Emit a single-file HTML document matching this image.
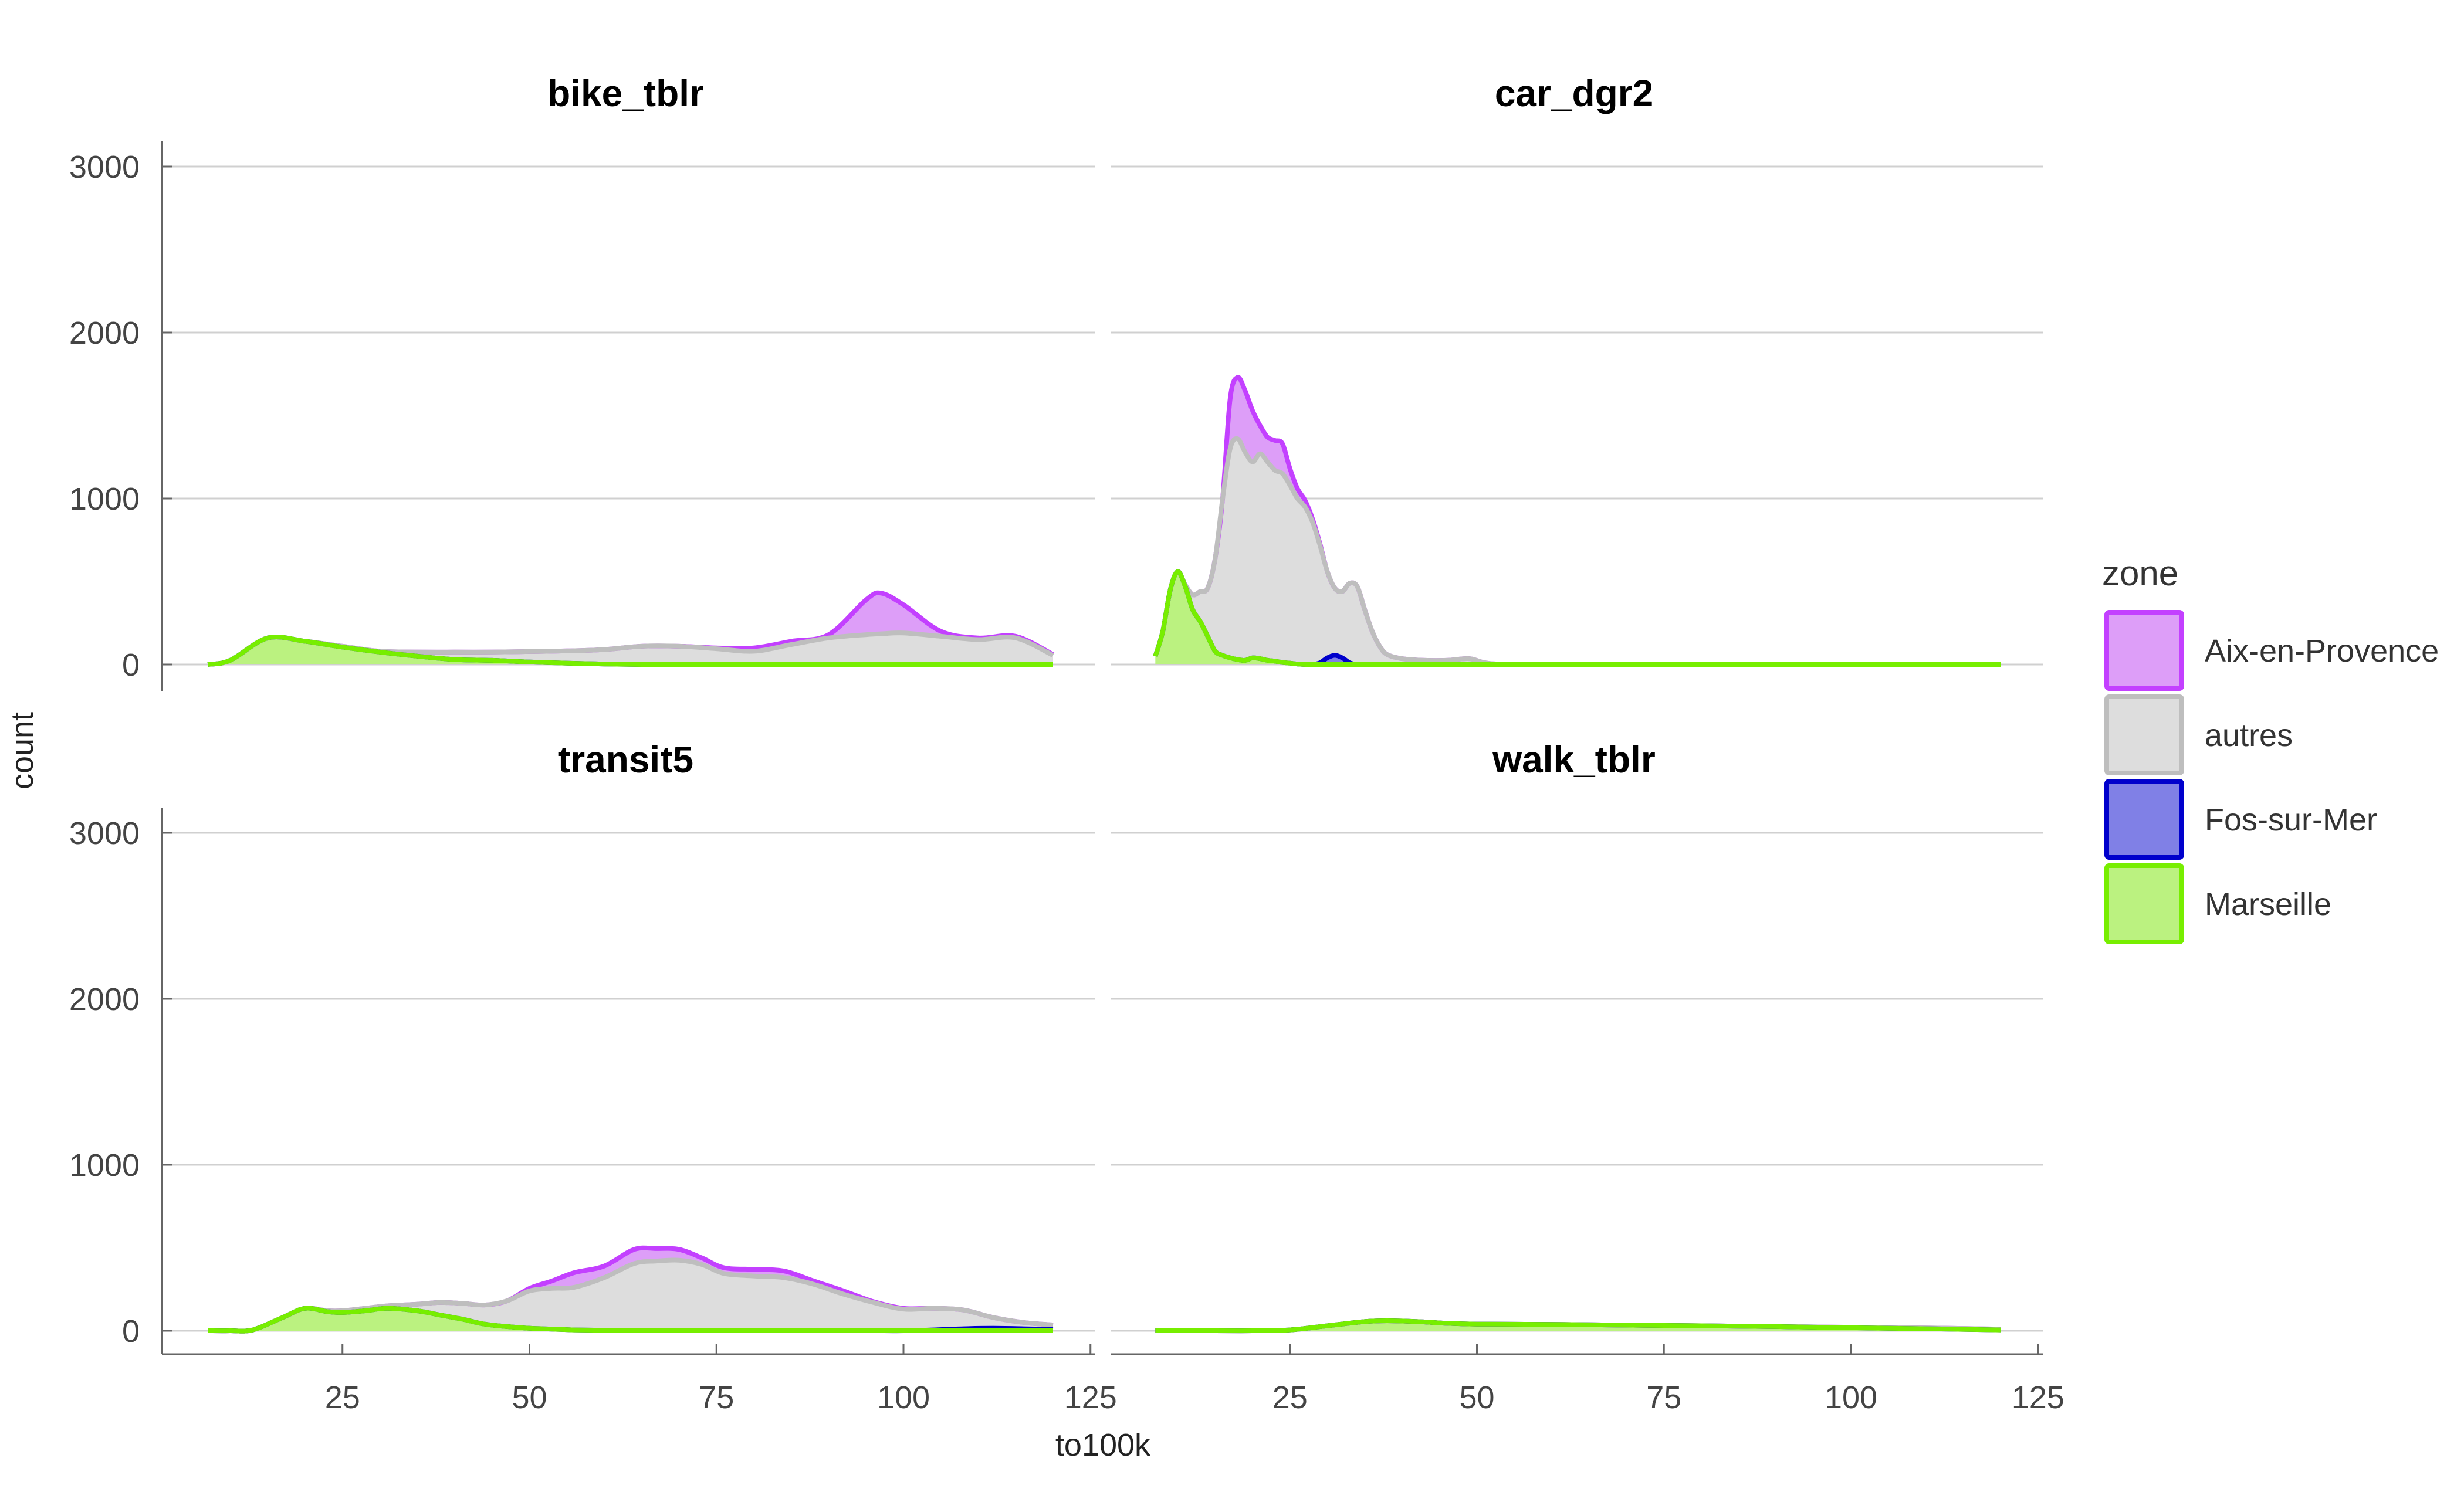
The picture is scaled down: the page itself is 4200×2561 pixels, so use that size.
<!DOCTYPE html>
<html><head><meta charset="utf-8">
<style>
html,body{margin:0;padding:0;background:#fff;}
svg{display:block;font-family:"Liberation Sans",sans-serif;}
</style></head>
<body>
<svg id="chart" width="4200" height="2561" viewBox="0 0 4200 2561" xmlns="http://www.w3.org/2000/svg">
<g id="grid"></g>
<g id="marks"></g>
<g id="axes"></g>
<g id="titles"></g>
<text x="0" y="0" transform="translate(56,1280) rotate(-90)" text-anchor="middle" font-size="54" fill="#222">count</text>
<text x="1880" y="2482" text-anchor="middle" font-size="54" fill="#222">to100k</text>
<g id="legend">
<text x="3583" y="998" font-size="60" fill="#333">zone</text>
</g>
</svg>
<script>
// ---- data ----
const zones = ["Aix-en-Provence","autres","Fos-sur-Mer","Marseille"];
const panels = ["bike_tblr","car_dgr2","transit5","walk_tblr"];
const yTicks = [0,1000,2000,3000];
const xTicks = [25,50,75,100,125];

const bikeX = [7,10,15,20,25,30,35,40,45,50,55,60,65,70,75,80,85,90,95,97,100,105,110,115,120];
const bikeMarseille = [0,25,160,140,105,75,50,30,25,15,8,3,0,0,0,0,0,0,0,0,0,0,0,0,0];
const bikeFos = [0,0,0,0,0,0,0,0,0,0,0,0,0,0,0,0,0,0,0,0,0,0,0,0,0];
const bikeAutres = [0,0,0,0,5,5,25,45,50,63,74,87,110,110,95,80,120,160,180,185,190,170,150,160,55];
const bikeAix = [0,0,0,0,0,0,0,0,0,0,0,0,0,0,5,20,20,20,210,245,170,30,10,10,5];

const carX = [7,8,9,10,11,12,13,14,15,16,17,18,19,20,21,22,23,24,25,26,27,28,29,30,31,32,33,34,35,36,37,38,40,43,46,49,52,60,80,100,120];
const carMarseille = [50,200,450,560,470,330,260,170,80,55,40,30,25,40,35,25,20,12,8,3,0,0,0,0,0,0,0,0,0,0,0,0,0,0,0,0,0,0,0,0,0];
const carFos = [0,0,0,0,0,0,0,0,0,0,0,0,0,0,0,0,0,0,0,0,0,0,10,40,55,40,10,0,0,0,0,0,0,0,0,0,0,0,0,0,0];
const carAutres = [0,0,0,0,10,90,180,290,560,945,1260,1330,1255,1180,1235,1195,1150,1138,1072,997,950,860,710,520,405,400,480,470,330,200,110,60,35,25,25,35,5,0,0,0,0];
const carAix = [0,0,0,0,0,0,0,0,0,0,300,370,370,310,170,150,180,180,100,60,40,20,10,0,0,0,0,0,0,0,0,0,0,0,0,0,0,0,0,0,0];

const transitX = [7,10,13,17,20,23,25,28,31,35,38,41,44,47,50,53,56,60,64,67,70,73,76,80,84,88,92,96,100,104,108,112,116,120];
const transitMarseille = [0,0,5,80,135,115,110,120,135,120,95,70,40,25,15,10,5,3,0,0,0,0,0,0,0,0,0,0,0,0,0,0,0,0];
const transitFos = [0,0,0,0,0,0,0,0,0,0,0,0,0,0,0,0,0,0,0,0,0,0,0,0,0,0,0,0,0,5,12,15,12,8];
const transitAutres = [0,0,0,0,0,5,10,15,15,40,75,95,115,155,225,245,257,317,405,420,425,400,345,330,320,280,220,170,130,130,113,65,38,27];
const transitAix = [0,0,0,0,0,0,0,0,0,0,0,0,0,0,15,45,88,70,85,75,65,40,35,40,40,20,20,5,5,0,0,0,0,0];

const walkX = [7,15,20,25,30,35,38,42,46,50,60,70,80,90,100,110,120];
const walkMarseille = [0,0,0,5,30,55,60,55,45,40,38,34,30,25,18,12,5];
const walkFos = [0,0,0,0,0,0,0,0,0,0,0,0,0,0,0,0,0];
const walkAutres = [0,0,0,0,0,0,0,0,0,0,0,0,0,0,3,5,5];
const walkAix = [0,0,0,0,0,0,0,0,0,0,0,0,0,0,0,0,0];

// ---- layout ----
const NS="http://www.w3.org/2000/svg";
const fills={"Aix-en-Provence":"#dd9ef8","autres":"#dddddd","Fos-sur-Mer":"#8080e6","Marseille":"#bbf280"};
const strokes={"Aix-en-Provence":"#c340ff","autres":"#bebebe","Fos-sur-Mer":"#0000cc","Marseille":"#77ee00"};
const layout=[
 {name:panels[0],x0:265,left:276,right:1867,y0:1133,top:241,bot:1179,data:[bikeX,bikeAix,bikeAutres,bikeFos,bikeMarseille]},
 {name:panels[1],x0:1880,left:1894,right:3482,y0:1133,top:241,bot:1179,data:[carX,carAix,carAutres,carFos,carMarseille]},
 {name:panels[2],x0:265,left:276,right:1867,y0:2269,top:1377,bot:2309,data:[transitX,transitAix,transitAutres,transitFos,transitMarseille]},
 {name:panels[3],x0:1880,left:1894,right:3482,y0:2269,top:1377,bot:2309,data:[walkX,walkAix,walkAutres,walkFos,walkMarseille]}
];
const PXU=12.75, PYU=0.283;
function el(tag,attrs,parent){const e=document.createElementNS(NS,tag);for(const k in attrs)e.setAttribute(k,attrs[k]);parent.appendChild(e);return e;}
function smooth(pts){
 let d="M"+pts[0][0].toFixed(1)+","+pts[0][1].toFixed(1);
 for(let i=0;i<pts.length-1;i++){
  const p0=pts[Math.max(0,i-1)],p1=pts[i],p2=pts[i+1],p3=pts[Math.min(pts.length-1,i+2)];
  const c1=[p1[0]+(p2[0]-p0[0])/6,p1[1]+(p2[1]-p0[1])/6];
  const c2=[p2[0]-(p3[0]-p1[0])/6,p2[1]-(p3[1]-p1[1])/6];
  d+="C"+c1[0].toFixed(1)+","+c1[1].toFixed(1)+" "+c2[0].toFixed(1)+","+c2[1].toFixed(1)+" "+p2[0].toFixed(1)+","+p2[1].toFixed(1);
 }
 return d;
}
const grid=document.getElementById('grid'),marks=document.getElementById('marks'),axes=document.getElementById('axes'),titles=document.getElementById('titles');
layout.forEach((P,pi)=>{
 const sx=v=>P.x0+v*PXU, sy=v=>P.y0-v*PYU;
 yTicks.forEach(t=>{
  const g=el('line',{x1:P.left,x2:P.right,y1:sy(t),y2:sy(t),stroke:"#d0d0d0","stroke-width":3},grid);
  
  
 });
 const xs=P.data[0];
 const series={"Aix-en-Provence":P.data[1],"autres":P.data[2],"Fos-sur-Mer":P.data[3],"Marseille":P.data[4]};
 const order=["Marseille","Fos-sur-Mer","autres","Aix-en-Provence"];
 let lower=xs.map(()=>0);
 const layers=[];
 order.forEach(z=>{
  const upper=lower.map((l,i)=>l+series[z][i]);
  layers.push({z,lower:lower.slice(),upper});
  lower=upper;
 });
 const pg=el('g',{},marks);
 
 
 layers.forEach(L=>{
  const up=xs.map((x,i)=>[sx(x),sy(L.upper[i])]);
  const lo=xs.map((x,i)=>[sx(x),sy(L.lower[i])]).reverse();
  const d=smooth(up)+"L"+smooth(lo).slice(1)+"Z";
  const a=el('path',{d:d,fill:fills[L.z],stroke:"none"},pg);
  
  
 });
 layers.slice().reverse().forEach(L=>{
  const up=xs.map((x,i)=>[sx(x),sy(L.upper[i])]);
  const l=el('path',{d:smooth(up),fill:"none",stroke:strokes[L.z],"stroke-width":8,"stroke-linejoin":"round"},pg);
  
  
 });
 const t=el('text',{x:(P.left+P.right)/2-5,y:P.top-60,"text-anchor":"middle","font-size":64,"font-weight":"bold",fill:"#000"},titles);
 t.textContent=P.name;
 
 
 if(pi%2===0){
  const ax=el('line',{x1:P.left,x2:P.left,y1:P.top,y2:P.bot,stroke:"#666","stroke-width":3},axes);
  
  
  yTicks.forEach(v=>{
   const tk=el('line',{x1:P.left,x2:P.left+18,y1:sy(v),y2:sy(v),stroke:"#666","stroke-width":3},axes);
   
   
   const tl=el('text',{x:P.left-38,y:sy(v)+19,"text-anchor":"end","font-size":54,fill:"#444"},axes);
   tl.textContent=v;
   
   
  });
 }
 if(pi>=2){
  const ax=el('line',{x1:P.left,x2:P.right,y1:P.bot,y2:P.bot,stroke:"#666","stroke-width":3},axes);
  
  
  xTicks.forEach(v=>{
   const tk=el('line',{x1:sx(v),x2:sx(v),y1:P.bot,y2:P.bot-18,stroke:"#666","stroke-width":3},axes);
   
   
   const tl=el('text',{x:sx(v),y:P.bot+92,"text-anchor":"middle","font-size":54,fill:"#444"},axes);
   tl.textContent=v;
   
   
  });
 }
});
const leg=document.getElementById('legend');
const keyY=[1040,1184,1328,1472];
zones.forEach((z,i)=>{
 const r=el('rect',{x:3591,y:keyY[i]+4,width:128,height:130,rx:4,fill:fills[z],stroke:strokes[z],"stroke-width":8},leg);
 
 
 const t=el('text',{x:3758,y:keyY[i]+88,"font-size":54,fill:"#333"},leg);
 t.textContent=z;
 
 
});
</script>
</body></html>
